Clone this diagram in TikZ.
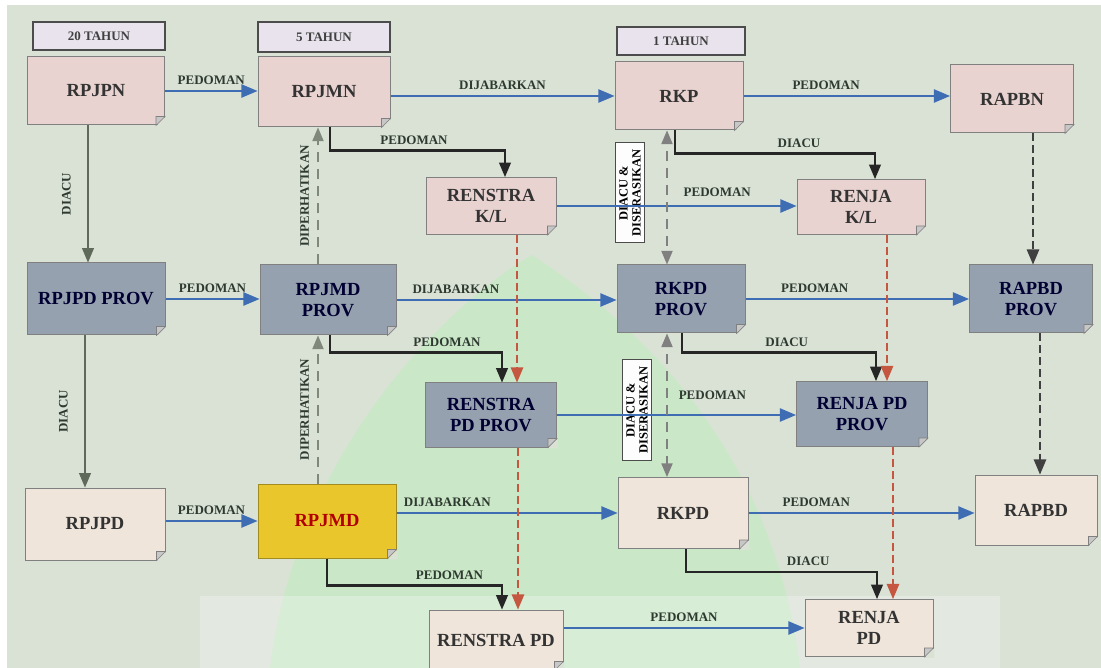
\documentclass[tikz,border=0pt]{standalone}
\usepackage{fontspec}
\setmainfont{Liberation Serif}
\usetikzlibrary{arrows,calc}

\definecolor{bgcol}{HTML}{DAE2D6}
\definecolor{pinkbox}{HTML}{E9D3D0}
\definecolor{provbox}{HTML}{95A1AE}
\definecolor{creambox}{HTML}{EFE5DA}
\definecolor{yelbox}{HTML}{E8C62C}
\definecolor{headbox}{HTML}{E8E3ED}
\definecolor{bluearr}{HTML}{3F6DB4}
\definecolor{redarr}{HTML}{C5563F}
\definecolor{labcol}{HTML}{2E3A30}
\definecolor{greyarr}{HTML}{5F6A5A}

\begin{document}
\begin{tikzpicture}[x=1pt, y=-1pt, >=triangle 45,
  box/.style={draw=black!50, line width=1pt, text=black!80, align=center,
    font=\fontsize{18.5}{21}\selectfont\bfseries, inner sep=2pt},
  pinkb/.style={box, fill=pinkbox},
  provb/.style={box, fill=provbox, text=black!80!blue},
  creamb/.style={box, fill=creambox},
  head/.style={draw=black!70, line width=1.6pt, fill=headbox, text=black!75,
    font=\fontsize{13}{15}\selectfont\bfseries},
  serasi/.style={draw=black!70, line width=1pt, fill=white!92!bgcol, rotate=90,
    align=center, inner sep=1pt, font=\fontsize{12.5}{13}\selectfont\bfseries,
    minimum width=100pt, minimum height=29pt},
  lab/.style={font=\fontsize{13}{15}\selectfont\bfseries, text=labcol, inner sep=2pt},
  pedoman/.style={->, draw=bluearr, line width=2.8pt},
  elbow/.style={->, draw=black!85, line width=2.4pt},
  reddash/.style={->, draw=redarr, line width=2.6pt, dash pattern=on 8pt off 4pt},
  darkdash/.style={->, draw=black!75, line width=2.6pt, dash pattern=on 8pt off 4pt},
  perhati/.style={->, draw=greyarr!80, line width=2.2pt, dash pattern=on 10pt off 7pt},
  serasiarr/.style={<->, draw=black!50, line width=2.2pt, dash pattern=on 10pt off 7pt},
  diacu/.style={->, draw=greyarr, line width=2.4pt},
  fold/.style={fill=black!22, draw=black!50, line width=0.6pt}]

\useasboundingbox (0,0) rectangle (1101,668);
\clip (0,0) rectangle (1101,668);
\fill[white] (0,0) rectangle (1101,668);
\fill[bgcol] (7,5) rectangle (1101,668);
% faint logo behind the chart
\fill[green!45!white, opacity=0.2] (270,668) .. controls (300,430) and (470,290) .. (532,255)
  .. controls (600,300) and (770,420) .. (800,668) -- cycle;
\fill[white, opacity=0.25] (200,596) rectangle (1000,668);

% time headers
\node[head, minimum width=132pt, minimum height=28pt] (tahun20) at (99,36) {20 TAHUN};
\node[head, minimum width=132pt, minimum height=30pt] (tahun5) at (324,37) {5 TAHUN};
\node[head, minimum width=128pt, minimum height=28pt] (tahun1) at (681,41) {1 TAHUN};

% national level
\node[pinkb, minimum width=137pt, minimum height=68pt] (RPJPN) at (96,91) {RPJPN};
\node[pinkb, minimum width=132pt, minimum height=70pt] (RPJMN) at (324,92) {RPJMN};
\node[pinkb, minimum width=128pt, minimum height=68pt] (RKP) at (679,96) {RKP};
\node[pinkb, minimum width=123pt, minimum height=68pt] (RAPBN) at (1012,99) {RAPBN};
\node[pinkb, minimum width=130pt, minimum height=57pt] (RENSTRAKL) at (491,206) {RENSTRA\\K/L};
\node[pinkb, minimum width=128pt, minimum height=55pt] (RENJAKL) at (861,207) {RENJA\\K/L};

% province level
\node[provb, minimum width=138pt, minimum height=72pt] (RPJPDPROV) at (96,299) {RPJPD PROV};
\node[provb, minimum width=136pt, minimum height=70pt] (RPJMDPROV) at (328,300) {RPJMD\\PROV};
\node[provb, minimum width=128pt, minimum height=68pt] (RKPDPROV) at (681,299) {RKPD\\PROV};
\node[provb, minimum width=123pt, minimum height=68pt] (RAPBDPROV) at (1031,299) {RAPBD\\PROV};
\node[provb, minimum width=131pt, minimum height=64pt] (RENSTRAPDPROV) at (491,415) {RENSTRA\\PD PROV};
\node[provb, minimum width=131pt, minimum height=65pt] (RENJAPDPROV) at (862,414) {RENJA PD\\PROV};

% district level
\node[creamb, minimum width=140pt, minimum height=72pt] (RPJPD) at (95,524) {RPJPD};
\node[box, fill=yelbox, draw=yelbox!70!black, text=red!70!black, minimum width=138pt,
  minimum height=74pt] (RPJMD) at (327,521) {RPJMD};
\node[creamb, minimum width=130pt, minimum height=71pt] (RKPD) at (683,513) {RKPD};
\node[creamb, minimum width=122pt, minimum height=70pt] (RAPBD) at (1036,510) {RAPBD};
\node[creamb, minimum width=134pt, minimum height=60pt] (RENSTRAPD) at (496,640) {RENSTRA PD};
\node[creamb, minimum width=128pt, minimum height=57pt] (RENJAPD) at (869,628) {RENJA\\PD};

\foreach \n in {RPJPN,RPJMN,RKP,RAPBN,RENSTRAKL,RENJAKL,RPJPDPROV,RPJMDPROV,RKPDPROV,
  RAPBDPROV,RENSTRAPDPROV,RENJAPDPROV,RPJPD,RPJMD,RKPD,RAPBD,RENSTRAPD,RENJAPD}{
  \fill[bgcol] ($(\n.south east)+(-9,0.8)$) -- ++(9.8,0) -- ++(0,-9.8) -- cycle;
  \filldraw[fold] ($(\n.south east)+(-9,0)$) -- ++(9,-9) -- ++(-9,0) -- cycle;
}

\node[serasi] (serasi1) at (630,193) {DIACU \&\\DISERASIKAN};
\node[serasi] (serasi2) at (637,410) {DIACU \&\\DISERASIKAN};

% horizontal flows
\draw[pedoman] (RPJPN.east) -- (RPJPN.east -| RPJMN.west) node[lab, midway, above=3pt] {PEDOMAN};
\draw[pedoman] (RPJMN.east |- RKP.west) -- (RKP.west) node[lab, midway, above=3pt] {DIJABARKAN};
\draw[pedoman] (RKP.east) -- (RKP.east -| RAPBN.west) node[lab, pos=0.4, above=3pt] {PEDOMAN};
\draw[pedoman] (RENSTRAKL.east) -- (RENSTRAKL.east -| RENJAKL.west) node[lab, pos=0.67, above=6pt] {PEDOMAN};

\draw[pedoman] (RPJPDPROV.east) -- (RPJPDPROV.east -| RPJMDPROV.west) node[lab, midway, above=3pt] {PEDOMAN};
\draw[pedoman] (RPJMDPROV.east) -- (RPJMDPROV.east -| RKPDPROV.west) node[lab, pos=0.27, above=3pt] {DIJABARKAN};
\draw[pedoman] (RKPDPROV.east) -- (RKPDPROV.east -| RAPBDPROV.west) node[lab, pos=0.31, above=3pt] {PEDOMAN};
\draw[pedoman] (RENSTRAPDPROV.east) -- (RENSTRAPDPROV.east -| RENJAPDPROV.west) node[lab, pos=0.65, above=12pt] {PEDOMAN};

\draw[pedoman] (RPJPD.east |- RPJMD.west) -- (RPJMD.west) node[lab, midway, above=3pt] {PEDOMAN};
\draw[pedoman] (RPJMD.east |- RKPD.west) -- (RKPD.west) node[lab, pos=0.23, above=3pt] {DIJABARKAN};
\draw[pedoman] (RKPD.east) -- (RKPD.east -| RAPBD.west) node[lab, pos=0.3, above=3pt] {PEDOMAN};
\draw[pedoman] (RENSTRAPD.east |- RENJAPD.west) -- (RENJAPD.west) node[lab, midway, above=3pt] {PEDOMAN};

% elbow connectors
\coordinate (pa1) at ($(RPJMN.south)+(6,0)$);
\coordinate (pb1) at ($(RENSTRAKL.north)+(14,0)$);
\draw[elbow] (pa1) -- ++(0,23) -| node[lab, pos=0.24, above=3pt] {PEDOMAN} (pb1);
\coordinate (pa2) at ($(RKP.south)+(-4,0)$);
\coordinate (pb2) at ($(RENJAKL.north)+(14,0)$);
\draw[elbow] (pa2) -- ++(0,23) -| node[lab, pos=0.31, above=3pt] {DIACU} (pb2);
\coordinate (pa3) at ($(RPJMDPROV.south)+(2,0)$);
\coordinate (pb3) at ($(RENSTRAPDPROV.north)+(11,0)$);
\draw[elbow] (pa3) -- ++(0,17) -| node[lab, pos=0.34, above=3pt] {PEDOMAN} (pb3);
\coordinate (pa4) at ($(RKPDPROV.south)+(1,0)$);
\coordinate (pb4) at ($(RENJAPDPROV.north)+(14,0)$);
\draw[elbow] (pa4) -- ++(0,19) -| node[lab, pos=0.27, above=3pt] {DIACU} (pb4);
\coordinate (pa5) at (RPJMD.south);
\coordinate (pb5) at ($(RENSTRAPD.north)+(6,0)$);
\draw[elbow] (pa5) -- ++(0,27) -| node[lab, pos=0.35, above=3pt] {PEDOMAN} (pb5);
\coordinate (pa6) at ($(RKPD.south)+(3,0)$);
\coordinate (pb6) at ($(RENJAPD.north)+(8,0)$);
\draw[elbow] (pa6) -- ++(0,23) -| node[lab, pos=0.32, above=3pt] {DIACU} (pb6);

% red dashed
\coordinate (ra1) at ($(RENSTRAKL.south)+(26,0)$);
\draw[reddash] (ra1) -- (ra1 |- RENSTRAPDPROV.north);
\coordinate (ra2) at ($(RENSTRAPDPROV.south)+(27,0)$);
\draw[reddash] (ra2) -- (ra2 |- RENSTRAPD.north);
\coordinate (ra3) at ($(RENJAKL.south)+(26,0)$);
\draw[reddash] (ra3) -- (ra3 |- RENJAPDPROV.north);
\coordinate (ra4) at ($(RENJAPDPROV.south)+(31,0)$);
\draw[reddash] (ra4) -- (ra4 |- RENJAPD.north);

% budget column
\coordinate (rb1) at ($(RAPBN.south)+(21,0)$);
\draw[darkdash] (rb1) -- (rb1 |- RAPBDPROV.north);
\coordinate (rb2) at ($(RAPBDPROV.south)+(9,0)$);
\draw[darkdash] (rb2) -- (rb2 |- RAPBD.north);

% vertical links
\coordinate (da1) at ($(RPJPN.south)+(-8,0)$);
\draw[diacu] (da1) -- (da1 |- RPJPDPROV.north) node[lab, midway, rotate=90, above=14pt] {DIACU};
\coordinate (da2) at ($(RPJPDPROV.south)+(-11,0)$);
\draw[diacu] (da2) -- (da2 |- RPJPD.north) node[lab, midway, rotate=90, above=14pt] {DIACU};

\coordinate (dp1) at ($(RPJMN.south)+(-6,0)$);
\draw[perhati] (dp1 |- RPJMDPROV.north) -- (dp1) node[lab, midway, rotate=90, above=6pt] {DIPERHATIKAN};
\coordinate (dp2) at ($(RPJMDPROV.south)+(-10,0)$);
\draw[perhati] (dp2 |- RPJMD.north) -- (dp2) node[lab, midway, rotate=90, above=6pt] {DIPERHATIKAN};

\coordinate (ds1) at ($(RKP.south)+(-12,0)$);
\draw[serasiarr] (ds1) -- (ds1 |- RKPDPROV.north);
\coordinate (ds2) at ($(RKPDPROV.south)+(-14,0)$);
\draw[serasiarr] (ds2) -- (ds2 |- RKPD.north);
\end{tikzpicture}
\end{document}
